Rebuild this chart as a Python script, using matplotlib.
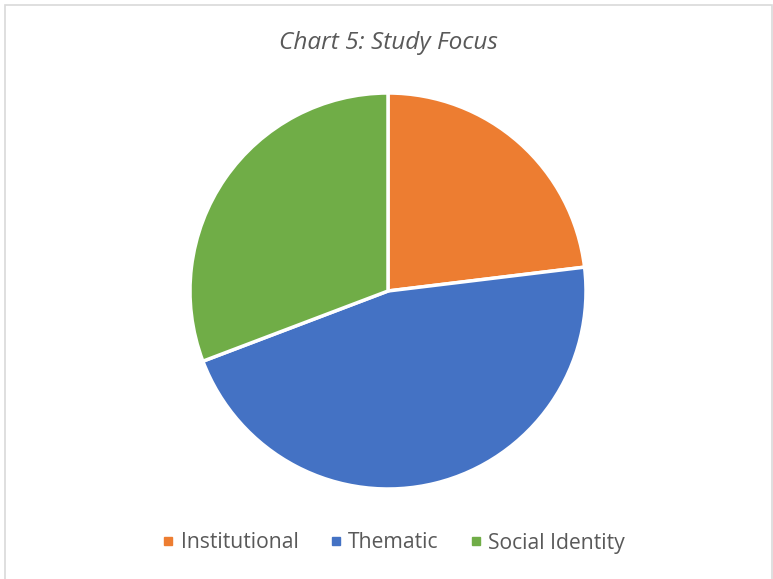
import matplotlib
matplotlib.use("Agg")
import matplotlib.pyplot as plt
from matplotlib.patches import Rectangle
from matplotlib.lines import Line2D

categories = ["Institutional", "Thematic", "Social Identity"]
values = [3, 6, 4]
colors = ["#ED7D31", "#4472C4", "#70AD47"]
title = "Chart 5: Study Focus"

W, H = 773, 579
fig = plt.figure(figsize=(W / 100, H / 100), dpi=100)
fig.patch.set_facecolor("white")

# border
fig.add_artist(Rectangle((4.5 / W, -0.01), (772 - 4.5) / W, 1.01 - 4.5 / H,
                         transform=fig.transFigure, fill=False,
                         edgecolor="#D9D9D9", linewidth=1.2))

cx, cy, r = 388, 291, 198
ax = fig.add_axes([(cx - r) / W, (H - cy - r) / H, 2 * r / W, 2 * r / H])
ax.pie(values, colors=colors, startangle=90, counterclock=False,
       wedgeprops=dict(edgecolor="white", linewidth=2.5))
ax.set_xlim(-1, 1)
ax.set_ylim(-1, 1)
ax.set_aspect("equal")
ax.axis("off")

fig.text(388 / W, 1 - 43 / H, title, ha="center", va="center",
         fontsize=17.6, style="italic", color="#595959", family="Open Sans")

handles = [Line2D([0], [0], marker="s", linestyle="none", markersize=6,
                  markerfacecolor=c, markeredgecolor=c) for c in colors]
leg = fig.legend(handles, categories, loc="center", ncol=3,
                 bbox_to_anchor=(394 / W, 1 - 543 / H), frameon=False,
                 prop=dict(family="Open Sans", size=15.2),
                 handlelength=0.5, handletextpad=0.35, columnspacing=1.5)
for t in leg.get_texts():
    t.set_color("#595959")

fig.savefig("out.png", dpi=100, facecolor="white")
